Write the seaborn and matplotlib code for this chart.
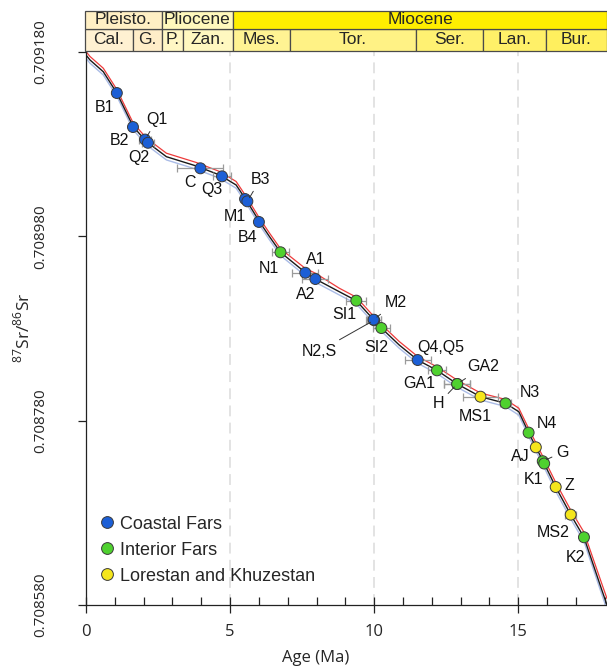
import matplotlib
matplotlib.use('Agg')
import matplotlib.pyplot as plt
import seaborn as sns
import pandas as pd
from matplotlib.patches import Rectangle
from matplotlib.lines import Line2D

# ---------------- data ----------------
sample_labels = ['B1', 'B2', 'Q1', 'Q2', 'C', 'Q3', 'M1', 'B3', 'B4', 'N1', 'A1', 'A2',
                 'SI1', 'N2,S', 'M2', 'SI2', 'Q4,Q5', 'GA1', 'H', 'GA2', 'MS1', 'N3',
                 'N4', 'AJ', 'G', 'K1', 'Z', 'MS2', 'K2']
sample_age = [1.07, 1.63, 2.05, 2.15, 3.97, 4.72, 5.52, 5.60, 6.00, 6.75, 7.61, 7.96,
              9.38, 10.00, 9.98, 10.25, 11.51, 12.18, 12.88, 12.88, 13.69, 14.56,
              15.36, 15.61, 15.85, 15.90, 16.30, 16.82, 17.28]
sample_sr = [0.7091355, 0.7090986, 0.7090850, 0.7090815, 0.7090538, 0.7090451,
             0.7090205, 0.7090180, 0.7089956, 0.7089627, 0.7089405, 0.7089337,
             0.7089102, 0.7088890, 0.7088896, 0.7088805, 0.7088458, 0.7088346,
             0.7088198, 0.7088198, 0.7088060, 0.7087988, 0.7087670, 0.7087511,
             0.7087360, 0.7087335, 0.7087080, 0.7086780, 0.7086535]
sample_region = ['Coastal Fars'] * 9 + ['Interior Fars'] + ['Coastal Fars'] * 2 + \
    ['Interior Fars', 'Interior Fars', 'Coastal Fars', 'Interior Fars', 'Coastal Fars',
     'Interior Fars', 'Interior Fars', 'Interior Fars', 'Lorestan and Khuzestan',
     'Interior Fars', 'Interior Fars', 'Lorestan and Khuzestan', 'Interior Fars',
     'Interior Fars', 'Lorestan and Khuzestan', 'Lorestan and Khuzestan', 'Interior Fars']
sample_age_err = [0.1, 0.1, 0.2, 0.2, 0.8, 0.3, 0.1, 0.1, 0.1, 0.3, 0.45, 0.45,
                  0.35, 0.25, 0.25, 0.3, 0.45, 0.3, 0.45, 0.45, 0.6, 0.2,
                  0.1, 0.1, 0.1, 0.1, 0.1, 0.2, 0.15]

curve_age = [0, 0.14, 0.60, 1.07, 1.64, 2.10, 2.79, 3.83, 4.64, 5.21, 5.56, 6.02,
             6.37, 6.75, 7.61, 7.96, 8.79, 9.38, 9.98, 10.25, 10.87, 11.51, 12.18,
             12.88, 13.69, 14.56, 15.02, 15.36, 15.88, 16.30, 16.82, 17.28, 17.90, 18.08]
curve_mean = [0.7091767, 0.7091713, 0.7091586, 0.7091355, 0.7090990, 0.7090827,
              0.7090664, 0.7090563, 0.7090465, 0.7090357, 0.7090194, 0.7089959,
              0.7089796, 0.7089627, 0.7089408, 0.7089337, 0.7089199, 0.7089102,
              0.7088896, 0.7088805, 0.7088621, 0.7088458, 0.7088346, 0.7088198,
              0.7088060, 0.7087988, 0.7087897, 0.7087670, 0.7087348, 0.7087080,
              0.7086780, 0.7086535, 0.7085963, 0.7085800]
curve_upper = [0.7091805, 0.7091751, 0.7091624, 0.7091393, 0.7091028, 0.7090865,
               0.7090702, 0.7090601, 0.7090503, 0.7090395, 0.7090232, 0.7089997,
               0.7089834, 0.7089665, 0.7089452, 0.7089400, 0.7089237, 0.7089140,
               0.7088934, 0.7088843, 0.7088659, 0.7088496, 0.7088384, 0.7088240,
               0.7088100, 0.7088030, 0.7087935, 0.7087715, 0.7087395, 0.7087130,
               0.7086830, 0.7086590, 0.7086030, 0.7085870]
curve_lower = [0.7091732, 0.7091678, 0.7091551, 0.7091320, 0.7090955, 0.7090792,
               0.7090629, 0.7090528, 0.7090430, 0.7090322, 0.7090159, 0.7089924,
               0.7089761, 0.7089592, 0.7089373, 0.7089302, 0.7089164, 0.7089067,
               0.7088861, 0.7088770, 0.7088586, 0.7088423, 0.7088311, 0.7088163,
               0.7088025, 0.7087953, 0.7087860, 0.7087630, 0.7087305, 0.7087035,
               0.7086735, 0.7086490, 0.7085915, 0.7085750]

epoch_names = ['Pleisto.', 'Pliocene', 'Miocene']
epoch_bounds = [0, 2.65, 5.14, 18.08]
stage_names = ['Cal.', 'G.', 'P.', 'Zan.', 'Mes.', 'Tor.', 'Ser.', 'Lan.', 'Bur.']
stage_bounds = [0, 1.65, 2.65, 3.39, 5.14, 7.11, 11.46, 13.79, 15.97, 18.08]

region_names = ['Coastal Fars', 'Interior Fars', 'Lorestan and Khuzestan']
x_ticks = [0, 5, 10, 15]
y_ticks = [0.708580, 0.708780, 0.708980, 0.709180]

# ---------------- styles ----------------
region_colors = ['#1c5fd6', '#4fd12f', '#f5e61c']
epoch_colors = ['#FFEFC4', '#FFF8BC', '#FFEE00']
stage_colors = ['#FFF1D2', '#FFEDC8', '#FFF7C4', '#FFF8C0', '#FFF393', '#FFF285',
                '#FFF172', '#FFF068', '#FFEF5E']
label_offsets = {  # pixel offsets (dx right, dy down), leader flag
    'B1': (-12, 14, False), 'B2': (-14, 13, False), 'Q1': (12, -20, True),
    'Q2': (-9, 15, False), 'C': (-10, 14, False), 'Q3': (-10, 13, False),
    'M1': (-10, 17, False), 'B3': (13, -22, True), 'B4': (-11, 16, False),
    'N1': (-12, 16, False), 'A1': (10, -13, False), 'A2': (-10, 15, False),
    'SI1': (-12, 14, False), 'N2,S': (-55, 31, True), 'M2': (22, -17, True),
    'SI2': (-5, 19, False), 'Q4,Q5': (23, -13, False), 'GA1': (-18, 13, False),
    'GA2': (26, -17, True), 'H': (-19, 20, True), 'MS1': (-5, 20, False),
    'N3': (24, -11, False), 'N4': (18, -9, False), 'AJ': (-16, 9, False),
    'G': (20, -9, True), 'K1': (-11, 16, False), 'Z': (14, -2, False),
    'MS2': (-18, 18, False), 'K2': (-9, 20, False)}

sns.set_style('ticks')
plt.rcParams['font.family'] = ['Liberation Sans', 'DejaVu Sans']
plt.rcParams['mathtext.fontset'] = 'custom'
plt.rcParams['mathtext.rm'] = 'Open Sans'

W, H = 607, 670
fig = plt.figure(figsize=(W / 100, H / 100), dpi=100)
ax = fig.add_axes([86 / W, 65 / H, 521 / W, 553 / H])

df = pd.DataFrame({'age': sample_age, 'sr': sample_sr, 'region': sample_region,
                   'err': sample_age_err, 'label': sample_labels})
cdf = pd.DataFrame({'age': curve_age, 'mean': curve_mean, 'upper': curve_upper,
                    'lower': curve_lower})

for xv in x_ticks[1:]:
    ax.axvline(xv, color='#e0e0e0', lw=1.3, ls=(0, (6, 3.5)), zorder=0)

sns.lineplot(data=cdf, x='age', y='lower', color='#a9bbe6', lw=1.0, sort=False,
             estimator=None, ax=ax, zorder=2)
sns.lineplot(data=cdf, x='age', y='upper', color='#ee3b3b', lw=0.9, sort=False,
             estimator=None, ax=ax, zorder=2)
sns.lineplot(data=cdf, x='age', y='mean', color='#1a1a1a', lw=1.0, sort=False,
             estimator=None, ax=ax, zorder=3)

ax.errorbar(df['age'], df['sr'], xerr=df['err'], fmt='none', ecolor='#9a9a9a',
            elinewidth=0.9, capsize=3, capthick=0.9, zorder=4)

pal = dict(zip(region_names, region_colors))
sns.scatterplot(data=df, x='age', y='sr', hue='region', hue_order=region_names,
                palette=pal, s=62, edgecolor='#3a3a3a', linewidth=0.7,
                legend=False, ax=ax, zorder=5)

for lab, xa, ya in zip(df['label'], df['age'], df['sr']):
    dx, dy, lead = label_offsets[lab]
    kw = {}
    if lead:
        kw['arrowprops'] = dict(arrowstyle='-', color='#333333', lw=0.7,
                                shrinkA=1, shrinkB=3)
    ax.annotate(lab, xy=(xa, ya), xytext=(dx * 0.72, -dy * 0.72),
                textcoords='offset points', ha='center', va='center',
                fontsize=11.5, color='#111111', zorder=6, **kw)

ax.set_xlim(0, 18.08)
ax.set_ylim(y_ticks[0], y_ticks[-1])
ax.set_xticks(x_ticks)
ax.set_xticks(range(0, 19), minor=True)
ax.set_xticklabels([str(v) for v in x_ticks], fontfamily='Open Sans', fontsize=12)
ax.set_yticks(y_ticks)
ax.set_yticklabels(['%.6f' % v for v in y_ticks], rotation=90, va='center',
                   fontfamily='Open Sans', fontsize=11)
ax.tick_params(axis='x', which='major', direction='inout', length=12, width=0.9,
               pad=8, color='#222222')
ax.tick_params(axis='x', which='minor', direction='in', length=5.5, width=0.9,
               color='#222222')
ax.tick_params(axis='y', which='major', direction='out', length=6, width=0.9,
               pad=21, color='#222222')
for s in ['top', 'right']:
    ax.spines[s].set_visible(False)
for s in ['left', 'bottom']:
    ax.spines[s].set_linewidth(0.9)
    ax.spines[s].set_color('#222222')
ax.set_xlabel('Age (Ma)', fontfamily='Open Sans', fontsize=12)
ax.set_ylabel(r'$^{87}\mathrm{Sr}/^{86}\mathrm{Sr}$', fontsize=12.5)
ax.yaxis.set_label_coords((32 - 86) / 521, (605 - 328) / 553)
ax.xaxis.set_label_coords((316 - 86) / 521, -(650 - 605) / 553)

handles = [Line2D([0], [0], marker='o', ls='none', markersize=8.5,
                  markerfacecolor=c, markeredgecolor='#3a3a3a', markeredgewidth=0.7)
           for c in region_colors]
ax.legend(handles, region_names, loc='upper left', bbox_to_anchor=(0.006, 0.181),
          frameon=False, fontsize=13, handlelength=0.8, handletextpad=0.3,
          labelspacing=0.5, borderaxespad=0.2)

# ---------------- header ----------------
hax = fig.add_axes([85 / W, 619 / H, 522 / W, 41 / H])
hax.set_xlim(0, 18.08)
hax.set_ylim(0, 41)
hax.axis('off')
for i, name in enumerate(stage_names):
    x0, x1 = stage_bounds[i], stage_bounds[i + 1]
    hax.add_patch(Rectangle((x0, 0), x1 - x0, 22, facecolor=stage_colors[i],
                            edgecolor='#4a4a4a', lw=0.9, clip_on=False))
    hax.text((x0 + x1) / 2, 11, name, ha='center', va='center', fontsize=12.5)
for i, name in enumerate(epoch_names):
    x0, x1 = epoch_bounds[i], epoch_bounds[i + 1]
    hax.add_patch(Rectangle((x0, 22), x1 - x0, 18.5, facecolor=epoch_colors[i],
                            edgecolor='#4a4a4a', lw=0.9, clip_on=False))
    hax.text((x0 + x1) / 2, 31.3, name, ha='center', va='center', fontsize=12.5)

fig.savefig('out.png', dpi=100)
